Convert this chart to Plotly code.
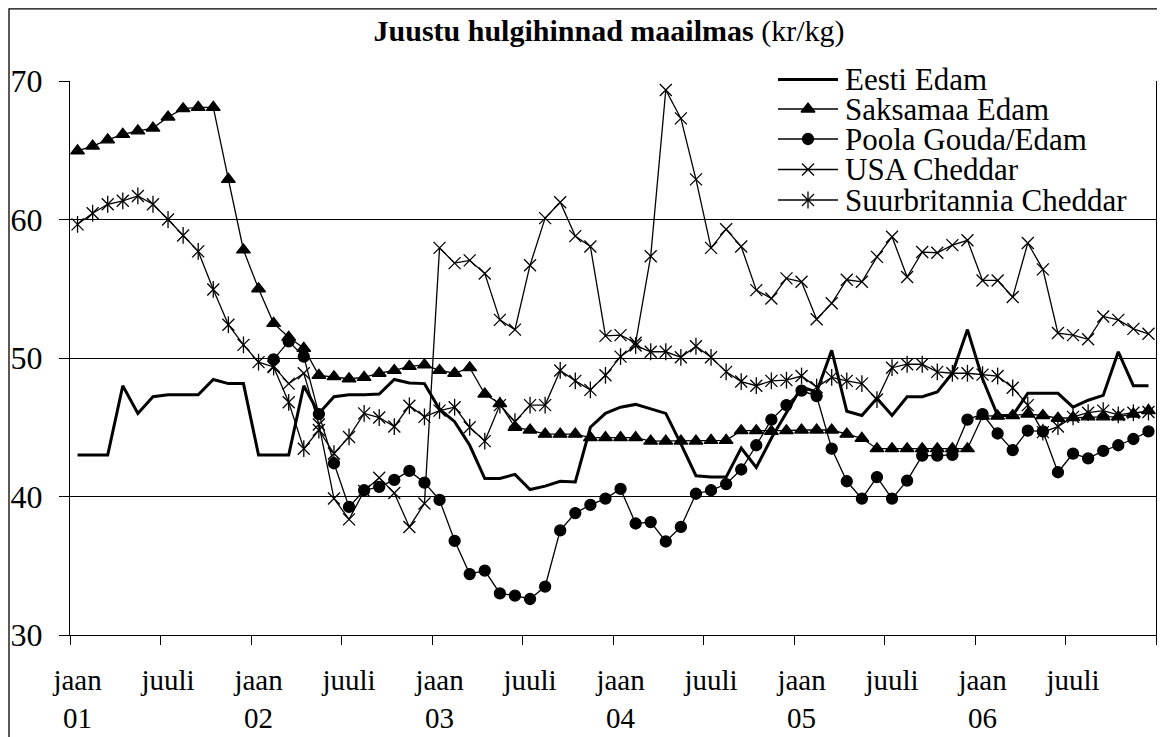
import plotly.graph_objects as go

# ---------------- data (monthly, Jan 2001 .. Dec 2006) ----------------
tick_text = ["jaan<br>01", "juuli", "jaan<br>02", "juuli", "jaan<br>03", "juuli",
             "jaan<br>04", "juuli", "jaan<br>05", "juuli", "jaan<br>06", "juuli"]

eesti_edam = [43.0, 43.0, 43.0, 48.0, 46.0, 47.2, 47.35, 47.35, 47.35, 48.45, 48.15, 48.15,
              43.0, 43.0, 43.0, 48.0, 46.0, 47.2, 47.35, 47.35, 47.4, 48.45, 48.2, 48.15,
              46.3, 45.4, 43.7, 41.3, 41.3, 41.6, 40.5, 40.75, 41.1, 41.05, 45.0, 46.0,
              46.45, 46.65, 46.35, 46.0, 43.8, 41.5, 41.4, 41.4, 43.5, 42.1, 44.2, 46.0,
              47.9, 47.55, 50.55, 46.15, 45.85, 47.1, 45.85, 47.2, 47.2, 47.55, 48.9, 52.05,
              48.5, 45.85, 45.85, 47.45, 47.45, 47.45, 46.45, 46.95, 47.3, 50.45, 48.0, 48.0]

saksamaa_edam = [64.95, 65.3, 65.75, 66.15, 66.4, 66.6, 67.4, 68.0, 68.1, 68.1, 62.9, 57.8,
                 55.0, 52.5, 51.5, 50.7, 48.75, 48.65, 48.5, 48.6, 48.9, 49.1, 49.4, 49.5,
                 49.1, 48.9, 49.3, 47.4, 46.7, 45.0, 44.8, 44.5, 44.5, 44.5, 44.25, 44.25,
                 44.25, 44.25, 44.0, 44.0, 44.0, 44.0, 44.05, 44.05, 44.75, 44.75, 44.7, 44.75,
                 44.8, 44.8, 44.8, 44.5, 44.2, 43.45, 43.45, 43.45, 43.45, 43.45, 43.45, 43.45,
                 45.8, 45.8, 45.85, 45.95, 45.85, 45.65, 45.7, 45.75, 45.75, 45.75, 45.95, 46.2]

poola_gouda = [None] * 13 + [
    49.9, 51.2, 50.1, 45.95, 42.4, 39.25, 40.45, 40.7, 41.2, 41.85, 41.0,
    39.75, 36.8, 34.4, 34.65, 33.0, 32.85, 32.6, 33.5, 37.55, 38.8, 39.4, 39.85,
    40.55, 38.05, 38.15, 36.75, 37.8, 40.2, 40.45, 40.9, 41.95, 43.7, 45.55, 46.6,
    47.65, 47.25, 43.45, 41.1, 39.85, 41.4, 39.85, 41.15, 42.95, 42.95, 43.0, 45.55,
    45.95, 44.55, 43.35, 44.75, 44.7, 41.75, 43.1, 42.75, 43.3, 43.7, 44.15, 44.7]

usa_cheddar = [None] * 13 + [
    49.4, 48.15, 48.9, 45.2, 39.85, 38.35, 40.4, 41.35, 40.25, 37.8, 39.5,
    57.95, 56.85, 57.05, 56.1, 52.75, 52.05, 56.7, 60.1, 61.25, 58.8, 58.05, 51.6,
    51.65, 51.1, 57.35, 69.35, 67.3, 62.9, 57.95, 59.3, 58.05, 54.9, 54.3, 55.75,
    55.5, 52.8, 53.95, 55.65, 55.5, 57.3, 58.75, 55.85, 57.65, 57.6, 58.15, 58.5,
    55.6, 55.6, 54.4, 58.3, 56.4, 51.8, 51.65, 51.35, 53.0, 52.75, 52.1, 51.75]

suurbritannia_cheddar = [59.65, 60.45, 61.1, 61.35, 61.7, 61.1, 60.0, 58.85, 57.7, 54.95, 52.4, 50.95,
                         49.7, 49.35, 46.8, 43.45, 44.8, 43.1, 44.3, 46.0, 45.7, 45.05, 46.55, 45.75,
                         46.2, 46.45, 45.0, 44.0, 46.6, 45.4, 46.6, 46.6, 49.1, 48.35, 47.7, 48.75,
                         50.1, 50.9, 50.45, 50.45, 50.05, 50.85, 50.05, 49.0, 48.3, 48.0, 48.35, 48.4,
                         48.7, 47.9, 48.6, 48.35, 48.15, 47.0, 49.3, 49.55, 49.55, 49.0, 48.9, 48.9,
                         48.8, 48.7, 47.85, 46.6, 44.65, 45.05, 45.75, 46.05, 46.2, 45.9, 46.05, 46.1]

series_names = ["Eesti Edam", "Saksamaa Edam", "Poola Gouda/Edam", "USA Cheddar", "Suurbritannia Cheddar"]

# ---------------- geometry ----------------
# The page body adds an 8px offset; the figure is sized so it ends at the window edge.
OFF = 8
SW, SH = 1165, 737                 # window size
W, H = SW - OFF, SH - OFF          # figure size
# plot area in window pixels
PX0, PX1, PY0, PY1 = 70, 1156, 81, 635
L, R, T, B = PX0 - OFF, W - (PX1 - OFF), PY0 - OFF, H - (PY1 - OFF)

x = list(range(len(eesti_edam)))
FONT = "Liberation Serif"
TRI, CIR, XS = 12, 11, 12

fig = go.Figure()


def add_series(y, sym=None, width=1.3, size=11, extra_sym=None):
    mode = "lines+markers" if sym else "lines"
    mk = dict(symbol=sym, size=size, color="black",
              line=dict(color="black", width=1.3)) if sym else None
    fig.add_trace(go.Scatter(x=x, y=y, mode=mode, line=dict(color="black", width=width),
                             marker=mk, showlegend=False, connectgaps=False,
                             cliponaxis=False))
    if extra_sym:
        fig.add_trace(go.Scatter(x=x, y=y, mode="markers",
                                 marker=dict(symbol=extra_sym, size=size, color="black",
                                             line=dict(color="black", width=1.3)),
                                 showlegend=False, cliponaxis=False))


add_series(eesti_edam, None, width=3)
add_series(saksamaa_edam, "triangle-up", size=TRI)
add_series(poola_gouda, "circle", size=CIR)
add_series(usa_cheddar, "x-thin", size=XS)
add_series(suurbritannia_cheddar, "x-thin", size=XS, extra_sym="line-ns")


def px_to_paper_x(px):
    return (px - PX0) / (PX1 - PX0)


def py_to_paper_y(py):
    return (PY1 - py) / (PY1 - PY0)


# ---------------- custom legend ----------------
leg_rows = [79.5, 109, 139, 169.5, 200]
leg_syms = [None, "triangle-up", "circle", "x-thin", "x-thin"]
leg_extra = [None, None, None, None, "line-ns"]
leg_widths = [3, 1.3, 1.3, 1.3, 1.3]
sym_size = {"triangle-up": TRI, "circle": CIR, "x-thin": XS, "line-ns": XS}
lx0, lx1, ltext = 778, 838, 844

shapes = [
    # white legend background hiding the top gridline
    dict(type="rect", xref="paper", yref="paper",
         x0=px_to_paper_x(755), x1=px_to_paper_x(1150),
         y0=py_to_paper_y(216), y1=py_to_paper_y(62),
         fillcolor="white", line=dict(width=0), layer="between"),
    # outer chart border
    dict(type="rect", xref="paper", yref="paper",
         x0=px_to_paper_x(9), x1=px_to_paper_x(1190),
         y0=py_to_paper_y(770), y1=py_to_paper_y(8.8),
         fillcolor="rgba(0,0,0,0)", line=dict(color="black", width=1.3), layer="above"),
]

for name, ry, sym, ex, lw in zip(series_names, leg_rows, leg_syms, leg_extra, leg_widths):
    shapes.append(dict(type="line", xref="paper", yref="paper",
                       x0=px_to_paper_x(lx0), x1=px_to_paper_x(lx1),
                       y0=py_to_paper_y(ry), y1=py_to_paper_y(ry),
                       line=dict(color="black", width=lw), layer="above"))
    for s in (sym, ex):
        if s:
            fig.add_trace(go.Scatter(x=[(lx0 + lx1) / 2], y=[-ry], mode="markers",
                                     marker=dict(symbol=s, size=sym_size[s],
                                                 color="black", line=dict(color="black", width=1.3)),
                                     xaxis="x2", yaxis="y2", showlegend=False,
                                     cliponaxis=False, hoverinfo="skip"))
    fig.add_annotation(x=px_to_paper_x(ltext), y=py_to_paper_y(ry), xref="paper", yref="paper",
                       text=name, showarrow=False, xanchor="left", yanchor="middle",
                       borderpad=0, font=dict(family=FONT, size=31, color="black"))

fig.update_layout(
    width=W, height=H,
    margin=dict(l=L, r=R, t=T, b=B, pad=0, autoexpand=False),
    paper_bgcolor="white", plot_bgcolor="white",
    font=dict(family=FONT, color="black"),
    title=dict(text="<b>Juustu hulgihinnad maailmas</b> (kr/kg)",
               x=(609 - OFF) / W, xref="container", xanchor="center",
               y=1 - 22 / H, yref="container", yanchor="middle",
               font=dict(family=FONT, size=30, color="black")),
    showlegend=False,
    shapes=shapes,
    xaxis=dict(range=[-0.5, len(x) - 0.5], tickmode="array", automargin=False,
               tickvals=list(range(0, len(x), 6)), ticktext=tick_text,
               ticks="", showgrid=False, zeroline=False,
               showline=True, linecolor="black", linewidth=1.3,
               tickfont=dict(family=FONT, size=29, color="black"),
               ticklabelstandoff=19,
               minor=dict(tick0=-0.5, dtick=6, ticks="outside", ticklen=9,
                          tickcolor="black", tickwidth=1.3, showgrid=False)),
    yaxis=dict(range=[30, 70], tickmode="linear", tick0=30, dtick=10, automargin=False,
               ticks="outside", ticklen=10, tickcolor="black", tickwidth=1,
               showgrid=True, gridcolor="black", gridwidth=1, zeroline=False,
               showline=True, linecolor="black", linewidth=1.3, mirror=True,
               tickfont=dict(family=FONT, size=32, color="black"),
               ticklabelstandoff=10),
    xaxis2=dict(overlaying="x", range=[PX0, PX1], visible=False, anchor="y2", fixedrange=True),
    yaxis2=dict(overlaying="y", range=[-PY1, -PY0], visible=False, anchor="x2", fixedrange=True),
)

fig.write_html("out.html")
